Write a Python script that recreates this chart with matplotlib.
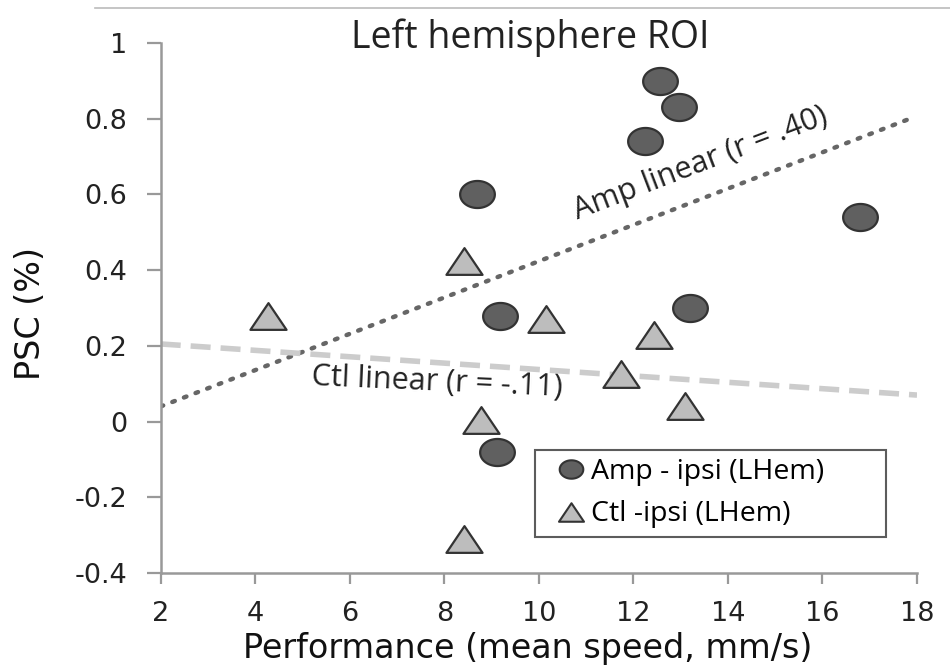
import numpy as np
import matplotlib
matplotlib.use("Agg")
import matplotlib.pyplot as plt
from matplotlib.path import Path
from matplotlib.lines import Line2D

# data
amp_x = [12.57, 12.97, 12.24, 8.69, 16.8, 9.17, 13.19, 9.11]
amp_y = [0.90, 0.83, 0.74, 0.60, 0.54, 0.28, 0.30, -0.08]

ctl_x = [4.28, 8.42, 10.15, 12.43, 11.73, 13.10, 8.77, 8.42]
ctl_y = [0.28, 0.425, 0.27, 0.23, 0.125, 0.04, 0.005, -0.31]

amp_fit_x = [2, 17.85]
amp_fit_y = [0.04, 0.80]
ctl_fit_x = [2, 18]
ctl_fit_y = [0.205, 0.07]

x_ticks = [2, 4, 6, 8, 10, 12, 14, 16, 18]
y_ticks = [-0.4, -0.2, 0, 0.2, 0.4, 0.6, 0.8, 1]
y_labels = ["-0.4", "-0.2", "0", "0.2", "0.4", "0.6", "0.8", "1"]

# the source image is stretched sideways, so markers are a bit wide
t = np.linspace(0, 2 * np.pi, 60)
oval = Path(np.column_stack([0.5 * np.cos(t), 0.39 * np.sin(t)]), closed=True)
tri = Path([(-0.5, -0.37), (0.5, -0.37), (0, 0.37), (-0.5, -0.37)], closed=True)

body_font = ["Open Sans", "DejaVu Sans"]
wide_font = ["DejaVu Sans"]

W, H = 950, 666
ax_l, ax_r, ax_t, ax_b = 160.7, 917, 43, 573

fig = plt.figure(figsize=(9.5, 6.66), dpi=100)
ax = fig.add_axes([ax_l / W, 1 - ax_b / H, (ax_r - ax_l) / W, (ax_b - ax_t) / H])

ax.plot(amp_fit_x, amp_fit_y, color="#666666", lw=3.2, linestyle=(0, (0.6, 2.2)),
        dash_capstyle="round", zorder=1)
ax.plot(ctl_fit_x, ctl_fit_y, color="#cccccc", lw=4.0, linestyle=(0, (3.6, 1.8)), zorder=1)

ax.plot(amp_x, amp_y, linestyle="none", marker=oval, markersize=25,
        markerfacecolor="#606060", markeredgecolor="#333333", markeredgewidth=1.6, zorder=3)
ax.plot(ctl_x, ctl_y, linestyle="none", marker=tri, markersize=26,
        markerfacecolor="#bdbdbd", markeredgecolor="#333333", markeredgewidth=1.6, zorder=3)

ax.text(13.42, 0.68, "Amp linear (r = .40)", rotation=21, ha="center", va="center",
        rotation_mode="anchor", fontsize=22, family=body_font, color="#222222")
ax.text(7.85, 0.102, "Ctl linear (r = -.11)", rotation=-2.5, ha="center", va="center",
        rotation_mode="anchor", fontsize=22, family=body_font, color="#222222")

ax.set_xlim(2, 18)
ax.set_ylim(-0.4, 1)
ax.set_xticks(x_ticks)
ax.set_yticks(y_ticks)
ax.set_yticklabels(y_labels)
for lbl in ax.get_xticklabels() + ax.get_yticklabels():
    lbl.set_family(wide_font)
    lbl.set_fontsize(19.5)
    lbl.set_color("#222222")

ax.spines["top"].set_visible(False)
ax.spines["right"].set_visible(False)
for s in ["left", "bottom"]:
    ax.spines[s].set_color("#999999")
    ax.spines[s].set_linewidth(1.8)
ax.tick_params(axis="both", direction="out", color="#999999", width=1.6)
ax.tick_params(axis="y", length=10, pad=14)
ax.tick_params(axis="x", length=8, pad=12)

ax.set_xlabel("Performance (mean speed, mm/s)", fontsize=24, family=wide_font, color="#111111")
ax.xaxis.label.set_va("baseline")
ax.xaxis.set_label_coords((527.5 - ax_l) / (ax_r - ax_l), (ax_b - 658) / (ax_b - ax_t))
ax.set_ylabel("PSC (%)", fontsize=24, family=wide_font, color="#111111")
ax.yaxis.set_label_coords((47 - ax_l) / (ax_r - ax_l), (ax_b - 313.5) / (ax_b - ax_t))

ax.text((530.5 - ax_l) / (ax_r - ax_l), 1 - (48 - ax_t) / (ax_b - ax_t), "Left hemisphere ROI",
        transform=ax.transAxes, ha="center", va="baseline", fontsize=27,
        family=body_font, color="#222222")

handles = [
    Line2D([], [], linestyle="none", marker=oval, markersize=17,
           markerfacecolor="#606060", markeredgecolor="#333333", markeredgewidth=1.5),
    Line2D([], [], linestyle="none", marker=tri, markersize=18,
           markerfacecolor="#bdbdbd", markeredgecolor="#333333", markeredgewidth=1.5),
]
lx0 = (535 - ax_l) / (ax_r - ax_l)
lx1 = (885.7 - ax_l) / (ax_r - ax_l)
ly0 = (ax_b - 449.7) / (ax_b - ax_t)
leg = ax.legend(handles, ["Amp - ipsi (LHem)", "Ctl -ipsi (LHem)"],
                loc="upper left", bbox_to_anchor=(lx0, ly0 - 0.2, lx1 - lx0, 0.2), mode="expand",
                prop={"family": body_font, "size": 20.5}, frameon=True, fancybox=False,
                handlelength=1.9, handletextpad=-0.25, borderpad=0.3, labelspacing=0.5,
                borderaxespad=0)
leg.get_frame().set_edgecolor("#333333")
leg.get_frame().set_linewidth(1.5)

fig.add_artist(Line2D([95 / W, 1], [1 - 8 / H, 1 - 8 / H], color="#bbbbbb", lw=1.2))

fig.savefig("out.png", dpi=100)
